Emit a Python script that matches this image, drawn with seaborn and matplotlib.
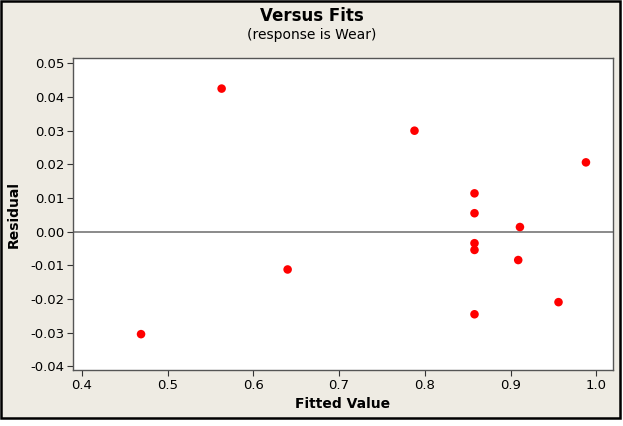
import numpy as np
import pandas as pd
import matplotlib
matplotlib.use("Agg")
import matplotlib.pyplot as plt
from matplotlib.patches import Rectangle
import seaborn as sns

sns.set_theme(style="white")
plt.rcParams['font.family'] = ['DejaVu Sans']
plt.rcParams['text.color'] = 'black'
plt.rcParams['axes.labelcolor'] = 'black'

# fitted values and residuals
fitted = [0.469, 0.563, 0.640, 0.788, 0.858, 0.858, 0.858, 0.858, 0.858,
          0.911, 0.909, 0.956, 0.988]
residual = [-0.0304, 0.0425, -0.0112, 0.0300, 0.0114, 0.0055, -0.0034,
            -0.0054, -0.0245, 0.0014, -0.0084, -0.0209, 0.0206]
xticks = [0.4, 0.5, 0.6, 0.7, 0.8, 0.9, 1.0]
yticks = [-0.04, -0.03, -0.02, -0.01, 0.00, 0.01, 0.02, 0.03, 0.04, 0.05]

df = pd.DataFrame({"fit": fitted, "resid": residual})

bg = "#EEEBE3"
fig = plt.figure(figsize=(6.23, 4.26), dpi=100)
fig.patch.set_facecolor("white")
fig.patches.append(Rectangle((0.002, 0.019), 0.993, 0.978, transform=fig.transFigure,
                             facecolor=bg, edgecolor="black", linewidth=1.8, zorder=-1))
ax = fig.add_axes([0.117, 0.131, 0.867, 0.733])
ax.set_facecolor("white")

ax.axhline(0, color="#777777", linewidth=1.2, zorder=1)
sns.scatterplot(data=df, x="fit", y="resid", ax=ax, color="#FF0000", s=38,
                edgecolor="none", zorder=3)

ax.set_xlim(0.3895, 1.0196)
ax.set_ylim(-0.0411, 0.0516)
ax.set_xticks(xticks)
ax.set_xticklabels([f"{v:.1f}" for v in xticks])
ax.set_yticks(yticks)
ax.set_yticklabels([f"{v:.2f}" for v in yticks])
ax.tick_params(axis="both", direction="out", length=4, width=0.8, colors="#333333",
               labelsize=9.5, labelcolor="black", pad=2, bottom=True, left=True)
for sp in ax.spines.values():
    sp.set_color("#555555")
    sp.set_linewidth(1.0)

ax.set_xlabel("Fitted Value", fontsize=10, fontweight="bold", labelpad=4)
ax.set_ylabel("Residual", fontsize=10, fontweight="bold", labelpad=7)
fig.text(0.5, 0.962, "Versus Fits", ha="center", va="center", fontsize=12,
         fontweight="bold")
fig.text(0.5, 0.918, "(response is Wear)", ha="center", va="center", fontsize=10)

plt.savefig("out.png", dpi=100, facecolor=fig.get_facecolor())
